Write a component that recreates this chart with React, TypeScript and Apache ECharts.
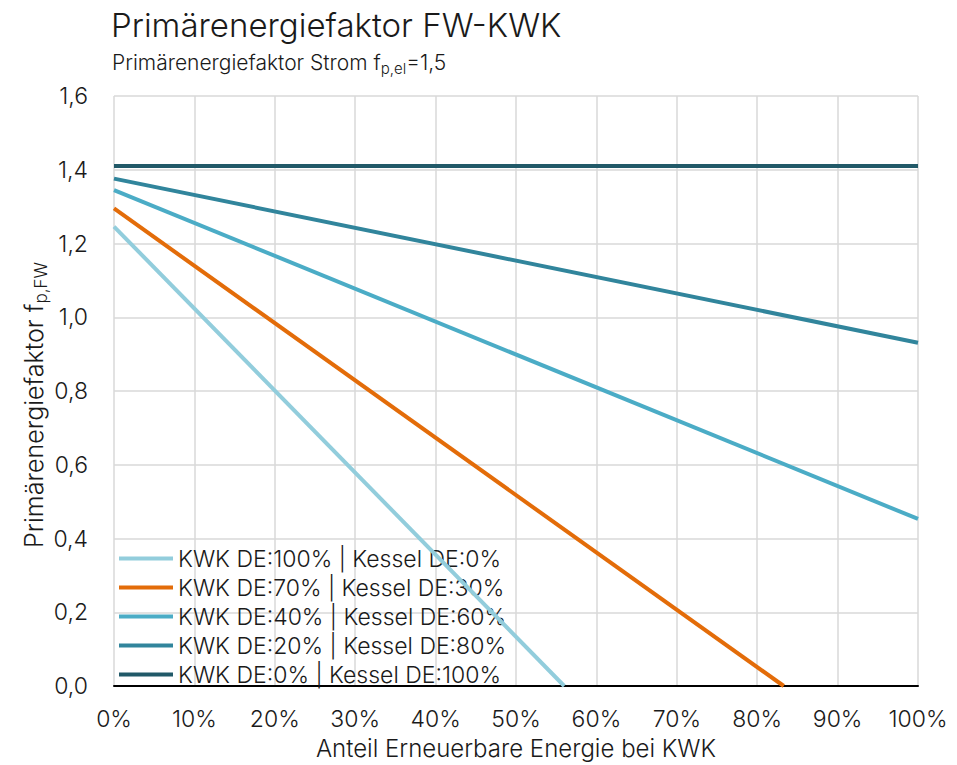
import React, { useEffect, useRef } from "react";
import * as echarts from "echarts";

const seriesNames = [
  "KWK DE:100% | Kessel DE:0%",
  "KWK DE:70% | Kessel DE:30%",
  "KWK DE:40% | Kessel DE:60%",
  "KWK DE:20% | Kessel DE:80%",
  "KWK DE:0% | Kessel DE:100%",
];
const colors = ["#92cddc", "#e36c09", "#4bacc6", "#31859c", "#215968"];
// [Anteil EE in %, f_p,FW]
const s1: number[][] = [[0, 1.246], [56.0, 0]];
const s2: number[][] = [[0, 1.295], [83.3, 0]];
const s3: number[][] = [[0, 1.345], [100, 0.453]];
const s4: number[][] = [[0, 1.376], [100, 0.931]];
const s5: number[][] = [[0, 1.41], [100, 1.41]];
const seriesData = [s1, s2, s3, s4, s5];

const FONT = "Inter";
const TXT = "#1a1a1a";

export default function App() {
  const ref = useRef<HTMLDivElement>(null);
  useEffect(() => {
    const chart = echarts.init(ref.current!, null, { renderer: "svg" });
    chart.setOption({
      animation: false,
      backgroundColor: "#ffffff",
      textStyle: { fontFamily: FONT, fontWeight: 300, color: TXT },
      grid: { left: 114, right: 39, top: 96, bottom: 76, containLabel: false },
      xAxis: {
        type: "value",
        min: 0,
        max: 100,
        interval: 10,
        name: "Anteil Erneuerbare Energie bei KWK",
        nameLocation: "middle",
        nameGap: 50,
        nameTextStyle: { fontSize: 24, fontFamily: FONT, fontWeight: 300, color: TXT },
        axisLine: { show: true, lineStyle: { color: "#000000", width: 2 } },
        axisTick: { show: false },
        splitLine: { show: true, lineStyle: { color: "#d9d9d9", width: 1.5 } },
        axisLabel: {
          fontSize: 23,
          fontFamily: FONT,
          fontWeight: 300,
          color: TXT,
          margin: 21,
          formatter: (v: number) => `${v}%`,
        },
      },
      yAxis: {
        type: "value",
        min: 0,
        max: 1.6,
        interval: 0.2,
        axisLine: { show: false },
        axisTick: { show: false },
        splitLine: { show: true, lineStyle: { color: "#d9d9d9", width: 1.5 } },
        axisLabel: {
          fontSize: 23,
          fontFamily: FONT,
          fontWeight: 300,
          color: TXT,
          margin: 26,
          formatter: (v: number) => v.toFixed(1).replace(".", ","),
        },
      },
      legend: {
        orient: "vertical",
        left: 119,
        top: 547,
        padding: 0,
        itemWidth: 54,
        itemHeight: 14,
        itemGap: 6,
        icon: "path://M0,0 L54,0 L54,4 L0,4 Z",
        textStyle: { fontSize: 23, fontFamily: FONT, fontWeight: 300, color: TXT, lineHeight: 23 },
        data: seriesNames,
      },
      graphic: [
        {
          type: "text",
          left: 111,
          top: 8,
          style: {
            text: "Primärenergiefaktor FW-KWK",
            font: `300 33px ${FONT}`,
            fill: TXT,
          },
        },
        {
          type: "text",
          left: 112,
          top: 52,
          style: {
            text: "Primärenergiefaktor Strom f{sub|p,el}=1,5",
            font: `300 21px ${FONT}`,
            fill: TXT,
            rich: {
              sub: { fontSize: 15, fontFamily: FONT, fontWeight: 300, padding: [12, 0, 0, 0] },
            },
          },
        },
        {
          type: "text",
          x: 34,
          y: 405,
          rotation: Math.PI / 2,
          style: {
            text: "Primärenergiefaktor f{sub|p,FW}",
            font: `300 25px ${FONT}`,
            fill: TXT,
            align: "center",
            verticalAlign: "middle",
            rich: {
              sub: { fontSize: 17, fontFamily: FONT, fontWeight: 300, padding: [14, 0, 0, 0] },
            },
          },
        },
      ],
      series: seriesNames.map((name, i) => ({
        name,
        type: "line",
        data: seriesData[i],
        symbol: "none",
        color: colors[i],
        lineStyle: { color: colors[i], width: 4 },
        z: 10 - i,
      })),
    });
    return () => chart.dispose();
  }, []);
  return (
    <div
      ref={ref}
      style={{ position: "absolute", left: 0, top: 0, width: 957, height: 765 }}
    />
  );
}
